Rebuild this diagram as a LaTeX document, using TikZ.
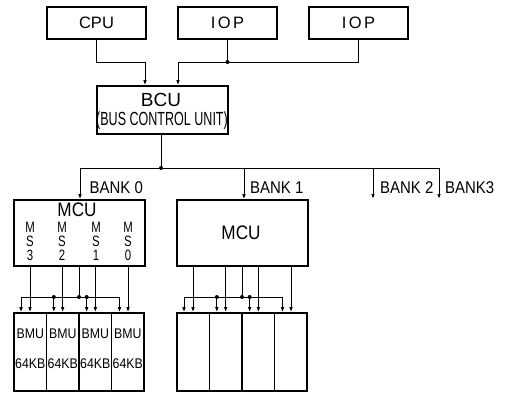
\documentclass[tikz,border=0pt]{standalone}
\usepackage{fontspec}
\setmainfont{Liberation Sans}
\newfontfamily\condA[FakeStretch=0.66]{Liberation Sans}
\newfontfamily\condB[FakeStretch=0.88]{Liberation Sans}
\newfontfamily\condM[FakeStretch=0.76]{Liberation Sans}
\usetikzlibrary{arrows.meta}
\begin{document}
\begin{tikzpicture}[x=1bp,y=-1bp,
  box/.style={draw,line width=1.6bp,inner sep=0pt},
  wire/.style={line width=1bp},
  arr/.style={wire,-{Latex[length=5bp,width=3.6bp]}},
  dot/.style={circle,fill,inner sep=0pt,minimum size=4bp},
  toplbl/.style={font=\fontsize{16.5bp}{18bp}\selectfont,inner sep=0pt},
  banklbl/.style={font=\condB\fontsize{17bp}{17bp}\selectfont,inner sep=0pt,anchor=west},
  mculbl/.style={font=\condB\fontsize{19.5bp}{20bp}\selectfont,inner sep=0pt},
  mslbl/.style={font=\condM\fontsize{15bp}{14bp}\selectfont,inner sep=0pt,align=center},
  bmulbl/.style={font=\condB\fontsize{14bp}{14bp}\selectfont,inner sep=0pt}
]
\useasboundingbox (0,0) rectangle (507,393);
% top units
\node[box,minimum width=99bp,minimum height=32bp] (cpu) at (96.5,23) {};
\node[box,minimum width=99bp,minimum height=32bp] (iop1) at (227.5,23) {};
\node[box,minimum width=99bp,minimum height=32bp] (iop2) at (358.5,23) {};
\node[toplbl] (cpuT) at (cpu.center) {CPU};
\node[toplbl,font=\addfontfeatures{LetterSpace=15}\fontsize{16.5bp}{18bp}\selectfont] (iop1T) at (iop1.center) {IOP};
\node[toplbl,font=\addfontfeatures{LetterSpace=15}\fontsize{16.5bp}{18bp}\selectfont] (iop2T) at (iop2.center) {IOP};
% BCU
\node[box,minimum width=131bp,minimum height=48bp] (bcu) at (162.5,110) {};
\node[inner sep=0pt,font=\fontsize{19bp}{20bp}\selectfont] (bcuT) at (161,100) {BCU};
\node[inner sep=0pt,font=\condA\fontsize{19bp}{20bp}\selectfont] (bcuS) at (162,121) {(BUS CONTROL UNIT)};
% connections to BCU
\coordinate (j1) at (145,62);
\coordinate (j2) at (178,62);
\draw[arr] (cpu.south) |- (j1) -- (j1 |- bcu.north);
\draw[arr] (iop2.south) |- (j2) -- (j2 |- bcu.north);
\draw[wire] (iop1.south) -- (iop1.south |- j2);
\node[dot] at (iop1.south |- j2) {};
% bus
\coordinate (bus) at (161,168);
\coordinate (bus0) at (80,168);
\coordinate (bus1) at (244,168);
\coordinate (bus2) at (373,168);
\coordinate (bus3) at (439,168);
\draw[wire] (bcu.south -| bus) -- (bus);
\node[dot] at (bus) {};
\draw[wire] (bus0) -- (bus3);
\coordinate (e2) at (373,199);
\coordinate (e3) at (439,199);
\draw[arr] (bus2) -- (e2);
\draw[arr] (bus3) -- (e3);
% banks
\foreach \bx/\bn in {14/0,177/1}{
  \begin{scope}[xshift=\bx bp]
    \node[box,minimum width=131bp,minimum height=66bp] (mcu\bn) at (65.5,233) {};
    \foreach \i in {0,...,3}{
      \node[box,minimum width=32.5bp,minimum height=78bp] (bmu\bn\i) at ({16.25+32.5*\i},352) {};
    }
    \coordinate (c\bn) at (65,297);
    \draw[wire] (mcu\bn.south -| c\bn) -- (c\bn);
    \node[dot] at (c\bn) {};
    \coordinate (hl\bn) at (7,297);
    \coordinate (hr\bn) at (105.5,297);
    \draw[wire] (hl\bn) -- (hr\bn);
    \foreach \i in {0,...,3}{
      \coordinate (br\bn\i) at ({7+32.83*\i},297);
      \draw[arr] (br\bn\i) -- (br\bn\i |- bmu\bn\i.north);
      \coordinate (d\bn\i) at ({16+32.67*\i},266);
      \draw[arr] (d\bn\i |- mcu\bn.south) -- (d\bn\i |- bmu\bn\i.north);
    }
    \node[dot] at (br\bn1) {};
    \node[dot] at (br\bn2) {};
  \end{scope}
}
\draw[arr] (bus0) -- (bus0 |- mcu0.north);
\draw[arr] (bus1) -- (bus1 |- mcu1.north);
\node[banklbl] (bl0) at (89.5,188) {BANK 0};
\node[banklbl] (bl1) at (250,188) {BANK 1};
\node[banklbl] (bl2) at (380,188) {BANK 2};
\node[banklbl] (bl3) at (445,188) {BANK3};
% MCU labels
\node[mculbl] (mcu0T) at (77,210) {MCU};
\node[mculbl] (mcu1T) at (241,233) {MCU};
\foreach \x/\d in {30/3,62/2,96/1,128/0}{
  \node[mslbl] (ms\d) at (\x,241.5) {M\\S\\\d};
}
% BMU labels
\foreach \i in {0,...,3}{
  \node[bmulbl] (bmuA\i) at (bmu0\i.center |- 0,334) {BMU};
  \node[bmulbl] (bmuB\i) at (bmu0\i.center |- 0,364) {64KB};
}
\end{tikzpicture}
\end{document}
